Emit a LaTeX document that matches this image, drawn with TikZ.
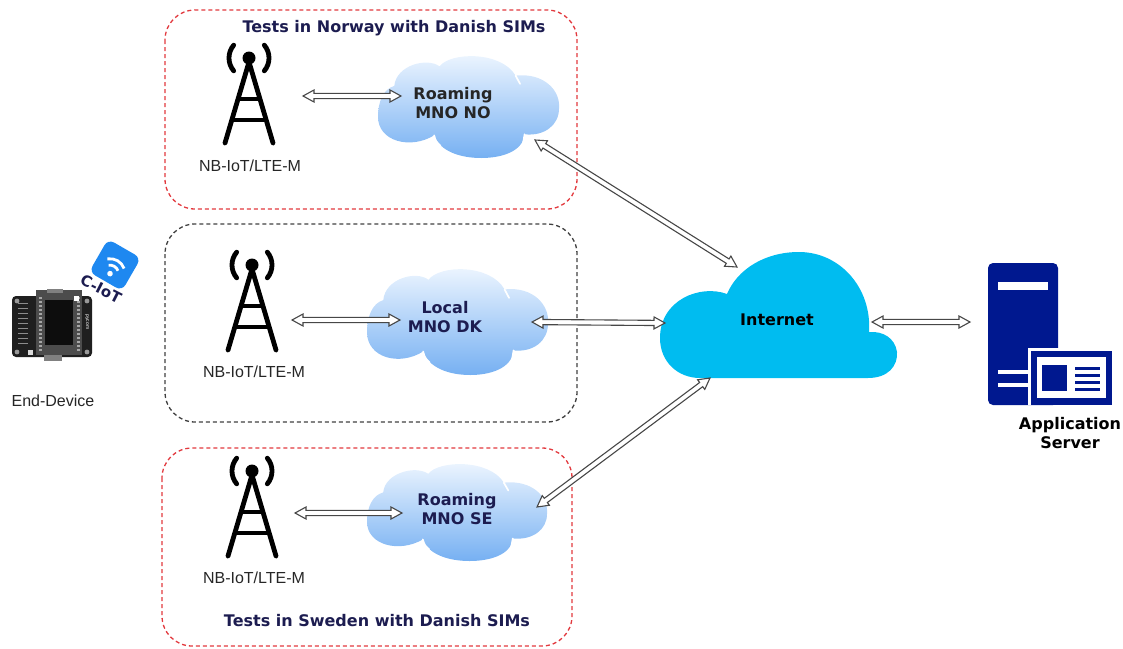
\documentclass[tikz,border=0pt]{standalone}
\usepackage{fontspec}
\setmainfont{Liberation Sans}
\newfontfamily\vfont{DejaVu Sans}
\usetikzlibrary{calc}

\definecolor{navy}{HTML}{1C1C50}
\definecolor{boxred}{HTML}{E2393E}
\definecolor{srvblue}{HTML}{00188F}
\definecolor{netblue}{HTML}{00BCF0}
\definecolor{cloudtop}{HTML}{F0F7FF}
\definecolor{cloudbot}{HTML}{76B0F2}
\definecolor{badge}{HTML}{1E88F0}

% fluffy operator cloud, unit square coordinates
\newcommand\mnocloudpath{(0.31,0.78)
 .. controls (0.18,0.92) and (0.00,0.84) .. (0.00,0.60)
 .. controls (0.00,0.45) and (0.03,0.33) .. (0.09,0.30)
 .. controls (0.10,0.10) and (0.27,0.02) .. (0.34,0.11)
 .. controls (0.40,-0.03) and (0.68,-0.04) .. (0.76,0.20)
 .. controls (0.92,0.17) and (1.01,0.35) .. (1.00,0.52)
 .. controls (1.00,0.68) and (0.92,0.79) .. (0.81,0.77)
 .. controls (0.80,0.94) and (0.68,1.00) .. (0.57,1.00)
 .. controls (0.45,1.00) and (0.34,0.93) .. (0.31,0.78) -- cycle}

\newcommand\mnocloud[4]{%
 \begin{scope}[shift={(#1,#2)}, xscale=#3, yscale=#4]
  \shade[top color=cloudtop, bottom color=cloudbot] \mnocloudpath;
  \draw[white, line width=1.7pt, line cap=round] (0.31,0.78) .. controls (0.32,0.84) .. (0.345,0.88);
  \draw[white, line width=1.7pt, line cap=round] (0.81,0.77) .. controls (0.81,0.82) .. (0.80,0.87);
  \draw[white, line width=1.7pt, line cap=round] (0.76,0.20) .. controls (0.77,0.24) .. (0.785,0.28);
 \end{scope}}

% hollow double-headed block arrow between two named points
\newcommand\flexlink[2]{%
 \draw[link] (#1)
  -- ($(#1)!11pt!(#2)!6pt!90:(#2)$)
  -- ($(#1)!11pt!(#2)!2.6pt!90:(#2)$)
  -- ($(#2)!11pt!(#1)!2.6pt!-90:(#1)$)
  -- ($(#2)!11pt!(#1)!6pt!-90:(#1)$)
  -- (#2)
  -- ($(#2)!11pt!(#1)!6pt!90:(#1)$)
  -- ($(#2)!11pt!(#1)!2.6pt!90:(#1)$)
  -- ($(#1)!11pt!(#2)!2.6pt!-90:(#2)$)
  -- ($(#1)!11pt!(#2)!6pt!-90:(#2)$)
  -- cycle;}

\tikzset{
 zone/.style={draw=boxred, dash pattern=on 4pt off 3pt, line width=1.3pt, rounded corners=30pt},
 localzone/.style={zone, draw=black!75},
 titletext/.style={font=\vfont\bfseries\fontsize{16}{19}\selectfont, text=navy},
 celllabel/.style={font=\fontsize{16}{19}\selectfont, text=black!85},
 cloudtext/.style={font=\vfont\bfseries\fontsize{16}{19}\selectfont, align=center},
 link/.style={draw=black!72, fill=white, line width=1.1pt, line join=miter},
 tower/.pic={
  \fill (0,0) circle (6.5);
  \draw[line width=4.8pt, line cap=round] (140:20) arc (140:220:20);
  \draw[line width=4.8pt, line cap=round] (-40:20) arc (-40:40:20);
  \draw[line width=4.8pt, line cap=round, line join=round] (-24,85) -- (0,4) -- (24,85);
  \draw[line width=4.8pt] (-12,41) -- (12,41);
  \draw[line width=4.8pt] (-18,62) -- (18,62);
 }
}

\begin{document}
\begin{tikzpicture}[x=1pt, y=-1pt]
\useasboundingbox (0,0) rectangle (1123,648);

% test zones
\draw[zone] (165,10) rectangle (577,209);
\draw[localzone] (165,224) rectangle (577,422);
\draw[zone] (162,448) rectangle (572,646);
\node[titletext] (ttlno) at (394,28) {Tests in Norway with Danish SIMs};
\node[titletext] (ttlse) at (377,621) {Tests in Sweden with Danish SIMs};

% cell towers
\pic at (249,58) {tower};
\pic at (252,265) {tower};
\pic at (252,471) {tower};
\node[celllabel] (tw1) at (250,166) {NB-IoT/LTE-M};
\node[celllabel] (tw2) at (254,372) {NB-IoT/LTE-M};
\node[celllabel] (tw3) at (254,578) {NB-IoT/LTE-M};

% operator clouds
\mnocloud{378}{55}{181}{103}
\mnocloud{367}{268}{181}{107}
\mnocloud{367}{463}{180}{98}
\node[cloudtext, text=black!85] (mnono) at (453,103) {Roaming\\MNO NO};
\node[cloudtext, text=navy] (mnodk) at (445,317) {Local\\MNO DK};
\node[cloudtext, text=navy] (mnose) at (457,509) {Roaming\\MNO SE};

% internet cloud
\fill[netblue] (700,378) -- (868,378)
  .. controls (888,378) and (898,366) .. (897,352)
  .. controls (895,338) and (883,331) .. (869,332)
  .. controls (872,288) and (840,252) .. (799,252)
  .. controls (764,252) and (737,270) .. (727,294)
  .. controls (700,284) and (660,300) .. (660,338)
  .. controls (660,362) and (678,378) .. (700,378) -- cycle;
\node[cloudtext] (inet) at (777,320) {Internet};

% application server
\fill[srvblue, rounded corners=5pt] (988,263) rectangle (1058,405);
\fill[white] (998,282) rectangle (1048,290);
\fill[white] (998,370) rectangle (1030,374);
\fill[white] (998,383) rectangle (1030,387);
\fill[white] (1028,348) rectangle (1114,405);
\fill[srvblue] (1031,351) rectangle (1112,405);
\fill[white] (1037,357) rectangle (1106,398);
\fill[srvblue] (1042,365) rectangle (1067,391);
\foreach \yy in {367,374,381,388} \fill[srvblue] (1075,\yy) rectangle (1100,\yy+2.6);
\node[cloudtext] (srv) at (1070,433) {Application\\Server};

% end device board
\fill[black!88, rounded corners=4pt] (12,296) rectangle (92,357);
\fill[black!70] (36,290) rectangle (82,355);
\fill[black!95] (45,300) rectangle (73,345);
\foreach \yy in {297,301,...,349} {
  \fill[black!35] (38.5,\yy) rectangle (41.5,\yy+2);
  \fill[black!35] (76.5,\yy) rectangle (79.5,\yy+2);
}
\foreach \yy in {303,308,...,343} \fill[black!45] (18,\yy) rectangle (28,\yy+1.2);
\foreach \p in {(17,301),(87,301),(17,352),(87,352)} \fill[black!40] \p circle (2.4);
\fill[white] (74,296) rectangle (79,301);
\fill[white!85!black] (28,350) rectangle (33,355);
\fill[black!50] (44,355) rectangle (62,361);
\fill[black!50] (47,289) rectangle (63,293);
\node[rotate=-90, text=white, font=\fontsize{5}{5}\selectfont] (brand) at (87,322) {pycom};
\node[celllabel] (dev) at (53,401) {End-Device};

% cellular IoT badge
\begin{scope}[rotate around={-30:(115,265)}]
 \fill[badge, rounded corners=7pt] (96,246) rectangle (134,284);
 \fill[white] (115,275) circle (2.8);
 \draw[white, line width=2.8pt] (115,275) ++(-130:8.5) arc (-130:-50:8.5);
 \draw[white, line width=2.8pt] (115,275) ++(-130:15) arc (-130:-50:15);
\end{scope}
\node[rotate=-27, font=\vfont\bfseries\fontsize{15}{15}\selectfont, text=navy] (ciot) at (101,289) {C-IoT};

% connector end points
\coordinate (t1r) at (303,96);
\coordinate (c1l) at (401,96);
\coordinate (c1r) at (535,140);
\coordinate (in1) at (737,267);
\coordinate (t2r) at (292,320);
\coordinate (c2l) at (400,320);
\coordinate (c2r) at (532,322);
\coordinate (in2) at (665,323);
\coordinate (t3r) at (295,513);
\coordinate (c3l) at (402,513);
\coordinate (c3r) at (537,507);
\coordinate (in3) at (710,378);
\coordinate (in4) at (872,322);
\coordinate (srvl) at (970,322);

\flexlink{t1r}{c1l}
\flexlink{c1r}{in1}
\flexlink{t2r}{c2l}
\flexlink{c2r}{in2}
\flexlink{t3r}{c3l}
\flexlink{c3r}{in3}
\flexlink{in4}{srvl}
\end{tikzpicture}
\end{document}
